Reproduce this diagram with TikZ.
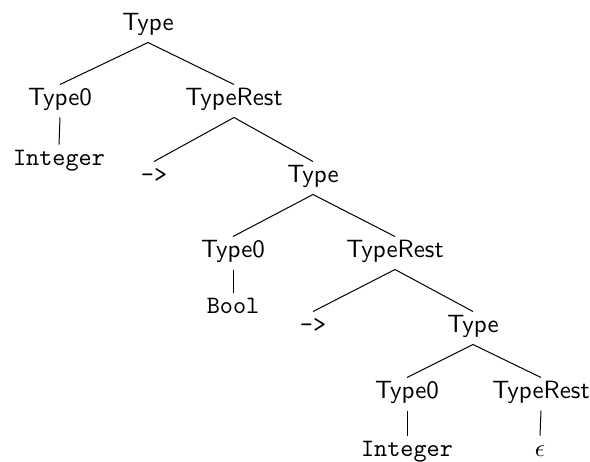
\documentclass[tikz,border=0pt]{standalone}
\usepackage{amsmath}
\usepackage{amssymb}
\usepackage{tikz}

\begin{document}
\begin{tikzpicture}[x={(0.4pt,0pt)},y={(0pt,-0.4pt)},
  nt/.style={font=\sffamily,anchor=base,text height=5pt,text depth=1.8pt,inner sep=3pt},
  tm/.style={nt,font=\ttfamily}]
  \useasboundingbox (0,0) rectangle (590,461);
  % level by level, x = centre, y = baseline
  \node[nt](t1) at (148,30){Type};
  \node[nt](a1) at (60,105){Type0};
  \node[nt](r1) at (234,105){TypeRest};
  \node[tm](i1) at (59,165){Integer};
  \node[tm](s1) at (154,182){->};
  \node[nt](t2) at (313,182){Type};
  \node[nt](a2) at (233,257){Type0};
  \node[nt](r2) at (395,257){TypeRest};
  \node[tm](b2) at (233,313){Bool};
  \node[tm](s2) at (313,332){->};
  \node[nt](t3) at (473,332){Type};
  \node[nt](a3) at (407,398){Type0};
  \node[nt](r3) at (541,398){TypeRest};
  \node[tm](i3) at (407,456){Integer};
  \node[nt](e3) at (540,456){$\epsilon$};
  \foreach \p/\c in {t1/a1,t1/r1,a1/i1,r1/s1,r1/t2,t2/a2,t2/r2,a2/b2,r2/s2,r2/t3,t3/a3,t3/r3,a3/i3,r3/e3}
    \draw (\p.south) -- (\c.north);
\end{tikzpicture}
\end{document}
